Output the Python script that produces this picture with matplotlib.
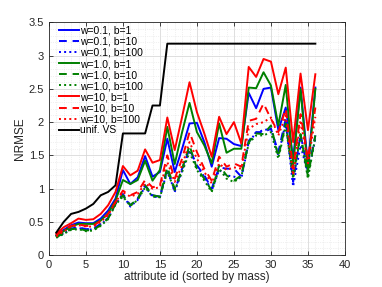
import matplotlib
matplotlib.use('Agg')
import matplotlib.pyplot as plt
import numpy as np
from matplotlib.ticker import MultipleLocator, FuncFormatter

plt.rcParams['font.family'] = ['Liberation Sans', 'DejaVu Sans']

attr_id = np.arange(1, 37)

# NRMSE per setting
w01_b1 = [0.30, 0.38, 0.45, 0.49, 0.48, 0.48, 0.55, 0.67, 0.85, 1.28, 1.07, 1.17, 1.49, 1.18, 1.25, 1.75, 1.25, 1.60,
          1.98, 1.99, 1.70, 1.33, 1.76, 1.75, 1.67, 1.64, 2.44, 2.21, 2.50, 2.52, 1.88, 2.22, 1.45, 2.52, 1.35, 2.52]
w01_b10 = [0.28, 0.33, 0.40, 0.42, 0.39, 0.40, 0.47, 0.56, 0.78, 0.92, 0.75, 0.85, 1.05, 0.90, 0.88, 1.30, 0.97, 1.30,
           1.60, 1.35, 1.20, 1.00, 1.32, 1.30, 1.30, 1.18, 1.72, 1.85, 1.85, 1.90, 1.55, 2.05, 1.10, 1.82, 1.25, 1.80]
w01_b100 = [0.27, 0.32, 0.40, 0.41, 0.38, 0.39, 0.46, 0.55, 0.77, 0.90, 0.73, 0.83, 1.03, 0.88, 0.87, 1.28, 0.95, 1.27,
            1.58, 1.33, 1.18, 0.97, 1.28, 1.20, 1.18, 1.15, 1.70, 1.84, 1.88, 1.90, 1.50, 2.00, 1.03, 1.65, 1.22, 1.75]
w1_b1 = [0.29, 0.36, 0.43, 0.47, 0.47, 0.47, 0.52, 0.63, 0.82, 1.13, 1.07, 1.13, 1.42, 1.12, 1.28, 1.93, 1.37, 1.85,
         2.29, 1.85, 1.65, 1.38, 1.98, 1.54, 1.60, 1.60, 2.52, 2.51, 2.75, 2.55, 1.95, 2.56, 1.35, 2.50, 1.25, 2.50]
w1_b10 = [0.27, 0.33, 0.39, 0.40, 0.37, 0.38, 0.45, 0.55, 0.77, 0.90, 0.75, 0.85, 1.05, 0.90, 0.88, 1.32, 1.00, 1.30,
          1.65, 1.30, 1.15, 0.97, 1.35, 1.20, 1.12, 1.20, 1.70, 1.83, 1.82, 1.95, 1.48, 1.98, 1.20, 1.82, 1.18, 1.80]
w1_b100 = [0.26, 0.32, 0.38, 0.39, 0.36, 0.37, 0.44, 0.54, 0.76, 0.88, 0.74, 0.83, 1.02, 0.88, 0.87, 1.25, 0.98, 1.25,
           1.55, 1.28, 1.12, 0.95, 1.30, 1.15, 1.10, 1.18, 1.68, 1.80, 1.80, 1.85, 1.45, 1.95, 1.15, 1.80, 1.15, 1.78]
w10_b1 = [0.32, 0.42, 0.48, 0.55, 0.53, 0.54, 0.62, 0.75, 0.95, 1.34, 1.20, 1.27, 1.59, 1.39, 1.43, 2.07, 1.58, 2.08,
          2.60, 2.15, 1.83, 1.48, 2.08, 1.82, 2.00, 1.68, 2.83, 2.68, 2.95, 2.91, 2.42, 2.82, 1.70, 2.73, 1.88, 2.72]
w10_b10 = [0.30, 0.38, 0.44, 0.46, 0.44, 0.44, 0.52, 0.62, 0.80, 0.97, 0.90, 0.95, 1.13, 1.02, 1.05, 1.50, 1.15, 1.45,
           1.85, 1.55, 1.30, 1.12, 1.48, 1.33, 1.38, 1.33, 2.02, 2.05, 2.28, 2.05, 1.85, 2.20, 1.30, 2.12, 1.45, 2.22]
w10_b100 = [0.28, 0.36, 0.43, 0.45, 0.43, 0.43, 0.50, 0.60, 0.80, 0.95, 0.88, 0.92, 1.08, 1.00, 1.02, 1.40, 1.10, 1.35,
            1.70, 1.45, 1.25, 1.08, 1.38, 1.28, 1.32, 1.30, 1.90, 1.97, 2.00, 2.07, 1.80, 2.10, 1.20, 2.03, 1.38, 2.08]
unif_vs = [0.34, 0.50, 0.62, 0.65, 0.70, 0.77, 0.90, 0.95, 1.05, 1.83, 1.83, 1.83, 1.83, 2.25, 2.25, 3.18, 3.18, 3.18,
           3.18, 3.18, 3.18, 3.18, 3.18, 3.18, 3.18, 3.18, 3.18, 3.18, 3.18, 3.18, 3.18, 3.18, 3.18, 3.18, 3.18, 3.18]

series = [
    ('w=0.1, b=1', w01_b1, 'b', '-'),
    ('w=0.1, b=10', w01_b10, 'b', (0, (4, 3))),
    ('w=0.1, b=100', w01_b100, 'b', ':'),
    ('w=1.0, b=1', w1_b1, 'g', '-'),
    ('w=1.0, b=10', w1_b10, 'g', (0, (4, 3))),
    ('w=1.0, b=100', w1_b100, 'g', ':'),
    ('w=10, b=1', w10_b1, 'r', '-'),
    ('w=10, b=10', w10_b10, 'r', (0, (4, 3))),
    ('w=10, b=100', w10_b100, 'r', ':'),
    ('unif. VS', unif_vs, 'k', '-'),
]
colors = {'b': '#0000ff', 'g': '#008000', 'r': '#ff0000', 'k': '#000000'}

fig = plt.figure(figsize=(3.82, 2.87), dpi=100)
ax = fig.add_axes([0.128, 0.111, 0.775, 0.811])

for label, vals, c, ls in series:
    ax.plot(attr_id, vals, color=colors[c], linestyle=ls, linewidth=1.4, label=label)

ax.set_xlim(0, 40)
ax.set_ylim(0, 3.5)
ax.xaxis.set_major_locator(MultipleLocator(5))
ax.yaxis.set_major_locator(MultipleLocator(0.5))
ax.xaxis.set_minor_locator(MultipleLocator(1))
ax.yaxis.set_minor_locator(MultipleLocator(0.1))
ax.yaxis.set_major_formatter(FuncFormatter(lambda v, p: f'{v:g}'))
ax.grid(which='major', color='#d9d9d9', linewidth=0.6)
ax.grid(which='minor', color='#e3e3e3', linewidth=0.5, linestyle=':')
ax.set_axisbelow(True)
ax.tick_params(which='both', direction='in', top=True, right=True, labelsize=8, colors='#262626')
ax.tick_params(which='minor', length=0)
ax.tick_params(which='major', length=3, width=0.6)
for s in ax.spines.values():
    s.set_color('#262626')
    s.set_linewidth(0.6)

ax.set_xlabel('attribute id (sorted by mass)', fontsize=8.5, color='#262626', labelpad=1)
ax.set_ylabel('NRMSE', fontsize=8.5, color='#262626', labelpad=2)

ax.legend(loc='upper left', bbox_to_anchor=(0.034, 0.985), fontsize=7.5, frameon=False,
          handlelength=1.9, handletextpad=0.15, labelspacing=0.1, borderaxespad=0, borderpad=0)

fig.savefig('out.png', dpi=100)
